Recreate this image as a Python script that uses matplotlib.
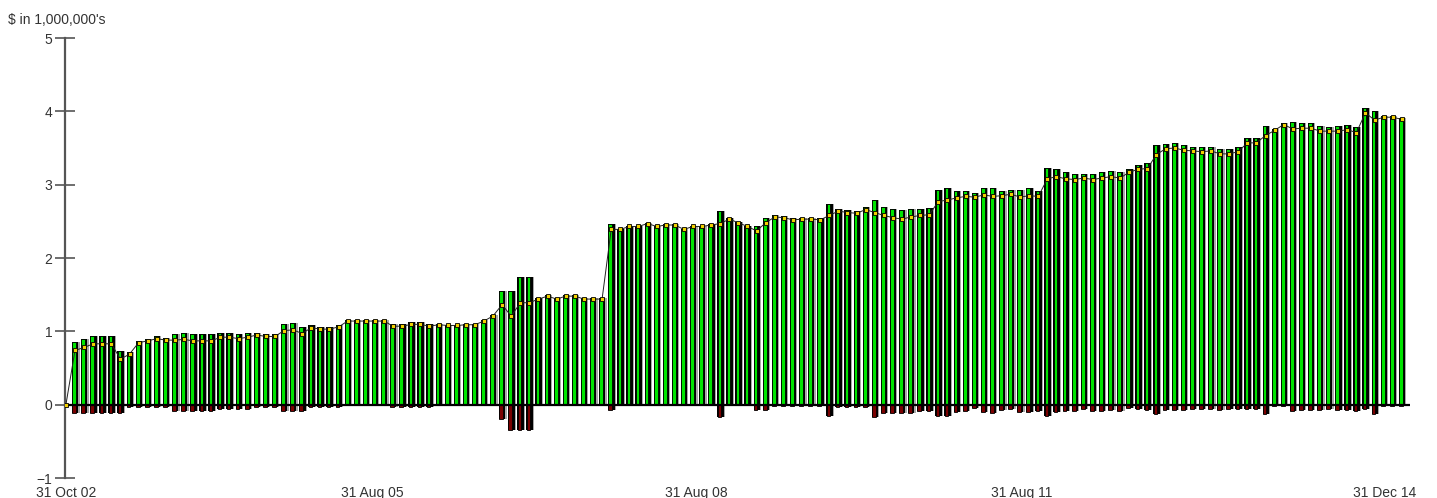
# Monthly inflow/outflow bars with running net line (Oct 02 - Dec 14)

import numpy as np
import matplotlib
matplotlib.use('Agg')
import matplotlib.pyplot as plt

plt.rcParams['font.family'] = ['Liberation Sans', 'DejaVu Sans']

# values in $ millions, one entry per month
inflow = [0.00, 0.85, 0.89, 0.94, 0.94, 0.94, 0.73, 0.72, 0.875, 0.90,
          0.93, 0.91, 0.97, 0.98, 0.96, 0.96, 0.96, 0.98, 0.98, 0.96,
          0.98, 0.98, 0.96, 0.96, 1.10, 1.11, 1.06, 1.08, 1.06, 1.06,
          1.09, 1.15, 1.15, 1.15, 1.15, 1.15, 1.10, 1.10, 1.125, 1.125,
          1.10, 1.10, 1.09, 1.09, 1.10, 1.10, 1.15, 1.22, 1.555, 1.555,
          1.74, 1.74, 1.45, 1.49, 1.45, 1.49, 1.49, 1.45, 1.45, 1.45,
          2.46, 2.40, 2.44, 2.44, 2.48, 2.44, 2.46, 2.46, 2.40, 2.44,
          2.44, 2.46, 2.64, 2.54, 2.49, 2.44, 2.44, 2.55, 2.58, 2.57,
          2.54, 2.55, 2.55, 2.54, 2.73, 2.67, 2.65, 2.64, 2.69, 2.79,
          2.70, 2.67, 2.65, 2.67, 2.67, 2.68, 2.93, 2.95, 2.92, 2.92,
          2.88, 2.96, 2.96, 2.92, 2.93, 2.93, 2.95, 2.92, 3.23, 3.21,
          3.17, 3.15, 3.15, 3.15, 3.17, 3.18, 3.17, 3.22, 3.27, 3.29,
          3.54, 3.56, 3.57, 3.54, 3.52, 3.51, 3.52, 3.49, 3.48, 3.51,
          3.63, 3.63, 3.80, 3.76, 3.84, 3.85, 3.84, 3.84, 3.80, 3.79,
          3.80, 3.82, 3.79, 4.04, 4.01, 3.94, 3.94, 3.91]

outflow = [0.00, -0.11, -0.11, -0.11, -0.11, -0.11, -0.11, -0.03, -0.03, -0.03,
           -0.03, -0.03, -0.09, -0.09, -0.09, -0.09, -0.09, -0.06, -0.06, -0.06,
           -0.06, -0.03, -0.03, -0.03, -0.09, -0.09, -0.09, -0.03, -0.03, -0.03,
           -0.03, -0.01, -0.01, -0.01, -0.01, -0.01, -0.03, -0.03, -0.03, -0.03,
           -0.03, -0.01, -0.01, -0.01, -0.01, -0.01, -0.01, -0.01, -0.19, -0.35,
           -0.35, -0.35, -0.01, -0.01, -0.01, -0.01, -0.01, -0.01, -0.01, -0.01,
           -0.07, -0.01, -0.01, -0.01, -0.01, -0.01, -0.01, -0.01, -0.01, -0.01,
           -0.01, -0.01, -0.17, -0.01, -0.01, -0.01, -0.07, -0.07, -0.02, -0.02,
           -0.02, -0.02, -0.02, -0.02, -0.15, -0.03, -0.03, -0.03, -0.03, -0.17,
           -0.12, -0.12, -0.12, -0.11, -0.09, -0.09, -0.16, -0.16, -0.10, -0.08,
           -0.05, -0.10, -0.12, -0.07, -0.06, -0.10, -0.10, -0.08, -0.15, -0.10,
           -0.09, -0.08, -0.06, -0.08, -0.08, -0.07, -0.08, -0.05, -0.06, -0.07,
           -0.13, -0.07, -0.07, -0.07, -0.06, -0.06, -0.06, -0.07, -0.06, -0.06,
           -0.06, -0.06, -0.13, -0.02, -0.02, -0.09, -0.07, -0.07, -0.07, -0.06,
           -0.07, -0.07, -0.08, -0.06, -0.13, -0.02, -0.02, -0.02]

tick_pos = [0, 33.7, 69.4, 105.2, 145.1]
tick_labels = ['31 Oct 02', '31 Aug 05', '31 Aug 08', '31 Aug 11', '31 Dec 14']

inflow = np.array(inflow)
outflow = np.array(outflow)
net = inflow + outflow
x = np.arange(len(inflow))

fig = plt.figure(figsize=(14.37, 4.98), dpi=100)
ax = fig.add_axes([65/1437, 1-478/498, (1410-65)/1437, (478-38)/498])

# 3d-ish bars: grey shadow, dark side, coloured face
for vals, face in [(inflow, '#00e400'), (outflow, '#7a0000')]:
    ax.bar(x + 0.14, vals, width=0.72, color='#a8a8a8', zorder=1)
    ax.bar(x + 0.02, vals, width=0.70, color='black', zorder=2)
    ax.bar(x - 0.10, vals, width=0.40, color=face, edgecolor='black', linewidth=0.6, zorder=3)

ax.axhline(0, color='black', lw=1.6, zorder=4)
ax.plot(x, net, color='#222222', lw=0.7, marker='s', markersize=3.5,
        markerfacecolor='#f2d000', markeredgecolor='black', markeredgewidth=0.6, zorder=5)

ax.set_xlim(-0.1, 147.9)
ax.set_ylim(-1, 5)
ax.set_yticks(range(-1, 6))
ax.set_xticks(tick_pos)
ax.set_xticklabels(tick_labels)

for s in ['top', 'right', 'bottom']:
    ax.spines[s].set_visible(False)
ax.spines['left'].set_color('#555555')
ax.spines['left'].set_linewidth(1.6)
ax.tick_params(axis='y', direction='inout', length=14, width=1.2, color='#555555',
               labelsize=10, labelcolor='#333333', pad=2)
ax.tick_params(axis='x', length=0, labelsize=10, labelcolor='#333333', pad=6)

fig.text(8/1437, 1-20/498, "$ in 1,000,000's", fontsize=10, color='#333333', va='center', ha='left')

fig.savefig('out.png', dpi=100)
